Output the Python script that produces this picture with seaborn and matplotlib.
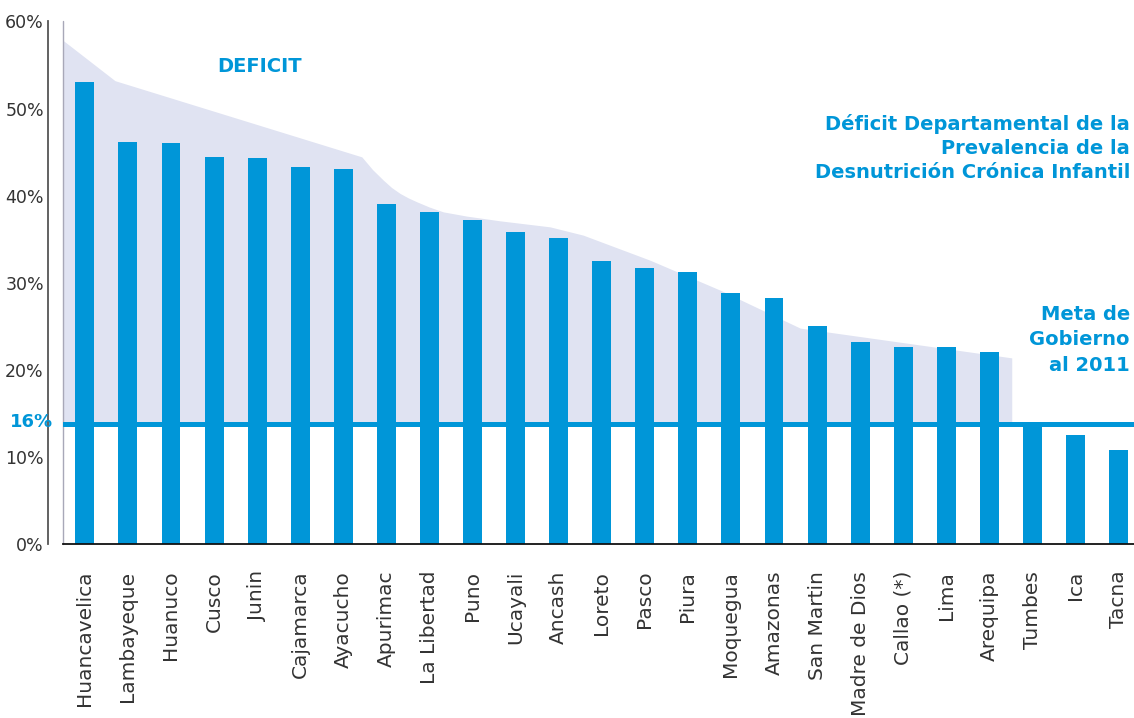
import matplotlib
matplotlib.use("Agg")
import matplotlib.pyplot as plt
import seaborn as sns
import pandas as pd
import numpy as np
from matplotlib.ticker import FixedLocator, FuncFormatter

# ---- data ----
departments = ["Huancavelica", "Lambayeque", "Huanuco", "Cusco", "Junin", "Cajamarca",
               "Ayacucho", "Apurimac", "La Libertad", "Puno", "Ucayali", "Ancash",
               "Loreto", "Pasco", "Piura", "Moquegua", "Amazonas", "San Martin",
               "Madre de Dios", "Callao (*)", "Lima", "Arequipa", "Tumbes", "Ica", "Tacna"]
prevalence = [53.1, 46.2, 46.0, 44.5, 44.3, 43.3, 43.1, 39.0, 38.1, 37.2, 35.8, 35.2,
              32.5, 31.7, 31.3, 28.8, 28.3, 25.0, 23.2, 22.6, 22.6, 22.1, 13.9, 12.5, 10.8]
goal_value = 13.8
goal_label = "16%"
# deficit envelope (shaded area upper edge)
envelope_x = [-0.5, 0.70, 6.43, 6.68, 6.93, 7.12, 7.32, 7.51, 7.71, 8.0, 8.32, 8.87,
              9.64, 10.80, 11.57, 13.12, 13.66, 14.75, 16.61, 21.52]
envelope_y = [57.8, 53.2, 44.46, 43.0, 41.79, 40.95, 40.26, 39.75, 39.30, 38.7, 38.15,
              37.66, 37.12, 36.43, 35.48, 32.61, 31.47, 29.17, 24.81, 21.4]
yticks = [0, 10, 20, 30, 40, 50, 60]

title_lines = "Déficit Departamental de la\nPrevalencia de la\nDesnutrición Crónica Infantil"
meta_lines = "Meta de\nGobierno\nal 2011"
deficit_label = "DEFICIT"

BLUE = "#0096D8"
SHADE = "#E0E3F2"
TXT = "#333333"

sns.set_style("white")
plt.rcParams["font.family"] = ["DejaVu Sans"]

fig = plt.figure(figsize=(11.34, 7.18), dpi=100)
W, H = 1134, 718
ax = fig.add_axes([63.3 / W, (H - 544.4) / H, 1076.8 / W, 523.0 / H])

df = pd.DataFrame({"dept": departments, "val": prevalence})
ax.fill_between(envelope_x, goal_value, envelope_y, color=SHADE, lw=0, zorder=0)
sns.barplot(data=df, x="dept", y="val", color=BLUE, width=0.44, saturation=1,
            linewidth=0, edgecolor=BLUE, ax=ax, zorder=2)
ax.axhline(goal_value, color=BLUE, lw=3.6, zorder=3)
ax.plot([-0.5, -0.5], [0, 60], color="#A8A8B8", lw=1, zorder=1, clip_on=False)

ax.set_xlim(-0.5, 24.5)
ax.set_ylim(0, 60)
ax.set_xlabel("")
ax.set_ylabel("")

for s in ["top", "right"]:
    ax.spines[s].set_visible(False)
ax.spines["left"].set_position(("outward", 11))
ax.spines["left"].set_color("#555555")
ax.spines["left"].set_linewidth(1.3)
ax.spines["bottom"].set_color("#111111")
ax.spines["bottom"].set_linewidth(1.3)

ax.yaxis.set_major_locator(FixedLocator(yticks))
ax.yaxis.set_major_formatter(FuncFormatter(lambda v, p: f"{int(v)}%"))
ax.tick_params(axis="y", direction="in", length=5, width=1.3, color="#222222",
               labelsize=12.5, labelcolor=TXT, pad=3)

ax.set_xticks(range(len(departments)))
ax.set_xticklabels(departments, rotation=90, va="top", ha="center")
ax.tick_params(axis="x", which="major", length=0, labelsize=14.5, labelcolor=TXT, pad=19)
ax.set_xticks(np.arange(-0.5, len(departments), 1.0), minor=True)
ax.tick_params(axis="x", which="minor", direction="out", length=6, width=1.3,
               color="#222222")

fig.text(31 / W, 1 - 422 / H, goal_label, color=BLUE, fontsize=13, fontweight="bold",
         ha="center", va="center")
fig.text(260 / W, 1 - 66 / H, deficit_label, color=BLUE, fontsize=14, fontweight="bold",
         ha="center", va="center")
fig.text(1130 / W, 1 - 148 / H, title_lines, color=BLUE, fontsize=14, fontweight="bold",
         ha="right", va="center", linespacing=1.3, multialignment="right")
fig.text(1130 / W, 1 - 340 / H, meta_lines, color=BLUE, fontsize=14, fontweight="bold",
         ha="right", va="center", linespacing=1.45, multialignment="right")

fig.savefig("out.png", dpi=100)
